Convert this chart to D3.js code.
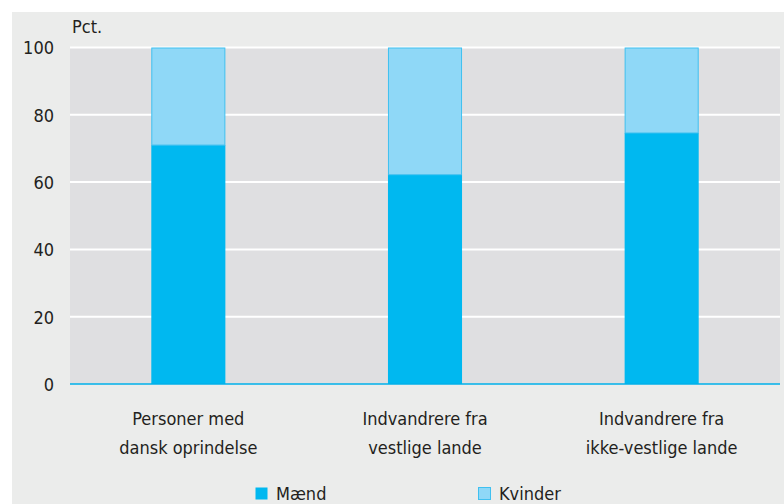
<!DOCTYPE html>
<html><head><meta charset="utf-8">
<script src="https://cdn.jsdelivr.net/npm/d3@7"></script>
<style>
html,body{margin:0;padding:0;background:#fff;}
svg text{font-family:"Liberation Sans Narrow","DejaVu Sans Condensed","Roboto Condensed",sans-serif;fill:#231f20;}
</style></head>
<body>
<svg id="chart" width="784" height="504"></svg>
<script>
const categories = [["Personer med","dansk oprindelse"],["Indvandrere fra","vestlige lande"],["Indvandrere fra","ikke-vestlige lande"]];
const maendValues = [71.0, 62.2, 74.6];
const kvinderValues = [29.0, 37.8, 25.4];
const seriesNames = ["Mænd","Kvinder"];
const yTicks = [0,20,40,60,80,100];
const yUnit = "Pct.";

const svg = d3.select("#chart");
const W = 784, H = 504;
const panel = {x:12, y:12};
const plot = {left:70, right:780, top:47.5, bottom:384};

svg.append("rect").attr("x",panel.x).attr("y",panel.y).attr("width",W-panel.x).attr("height",H-panel.y).attr("fill","#ebeceb");
svg.append("rect").attr("x",plot.left).attr("y",plot.top).attr("width",plot.right-plot.left).attr("height",plot.bottom-plot.top).attr("fill","#dfdfe1");

const x = d3.scaleBand().domain(d3.range(categories.length)).range([plot.left,plot.right]).paddingInner(0.687).paddingOuter(0.3435);
const y = d3.scaleLinear().domain([0,100]).range([plot.bottom,plot.top]);

// gridlines
svg.append("g").selectAll("line").data(yTicks.filter(d=>d>0)).join("line")
  .attr("x1",plot.left).attr("x2",plot.right)
  .attr("y1",d=>y(d)).attr("y2",d=>y(d))
  .attr("stroke","#ffffff").attr("stroke-width",2);

// y axis labels
const yAxis = d3.axisLeft(y).tickValues(yTicks).tickSize(0).tickPadding(0);
const gy = svg.append("g").attr("transform",`translate(54,0)`).call(yAxis);
gy.select(".domain").remove();
gy.selectAll("text").attr("font-size",18).attr("fill","#231f20").attr("dy","0.36em")
  .style("font-family",'"Liberation Sans Narrow","DejaVu Sans Condensed",sans-serif');

svg.append("text").attr("x",72).attr("y",33).attr("font-size",18).text(yUnit);

// stacked data
const rows = categories.map((c,i)=>({i, m:maendValues[i], k:kvinderValues[i]}));
const stack = d3.stack().keys(["m","k"])(rows);
const fills = ["#00b8f0","#8fd8f7"];
const strokes = ["none","#3fc0f0"];
stack.forEach((s,si)=>{
  svg.append("g").selectAll("rect").data(s).join("rect")
    .attr("x",d=>x(d.data.i)+(si?0.5:0))
    .attr("width",x.bandwidth()-(si?1:0))
    .attr("y",d=>y(d[1])+(si?0.5:0))
    .attr("height",d=>y(d[0])-y(d[1])-(si?0.5:0))
    .attr("fill",fills[si]).attr("stroke",strokes[si]).attr("stroke-width",1);
});

// baseline
svg.append("line").attr("x1",plot.left).attr("x2",plot.right).attr("y1",y(0)).attr("y2",y(0))
  .attr("stroke","#00b0ea").attr("stroke-width",1.5);

// category labels
const gx = svg.append("g");
categories.forEach((lines,i)=>{
  const t = gx.append("text").attr("text-anchor","middle").attr("font-size",18)
    .attr("x",x(i)+x.bandwidth()/2).attr("y",425);
  lines.forEach((ln,j)=>t.append("tspan").attr("x",x(i)+x.bandwidth()/2).attr("dy",j?29:0).text(ln));
});

// legend
const legendX = [255, 478];
seriesNames.forEach((n,i)=>{
  svg.append("rect").attr("x",legendX[i]+0.5).attr("y",487.5).attr("width",12).attr("height",12)
    .attr("fill",fills[i]).attr("stroke",i?"#3fc0f0":"none");
  svg.append("text").attr("x",legendX[i]+21).attr("y",500).attr("font-size",18).text(n);
});
</script>
</body></html>
